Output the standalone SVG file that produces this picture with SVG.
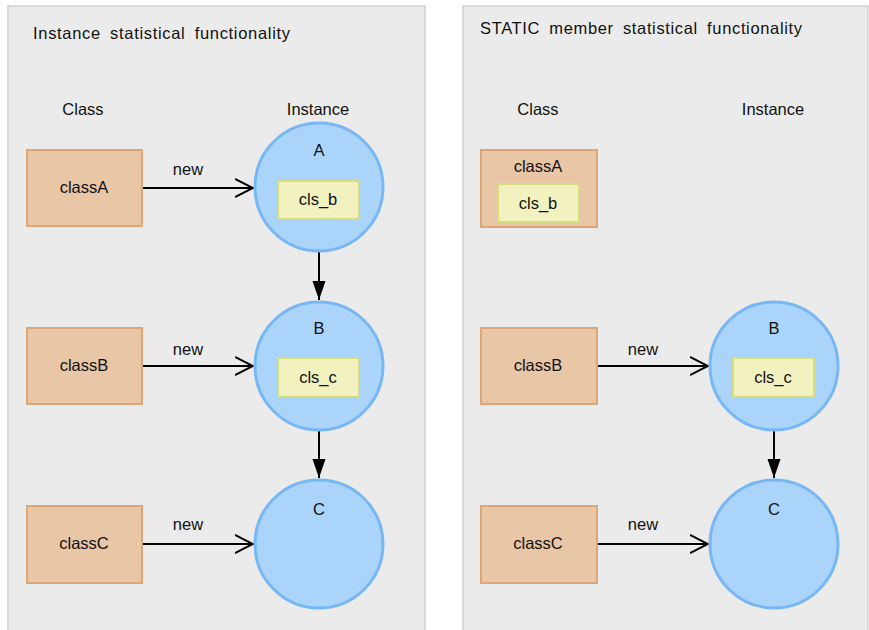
<svg xmlns="http://www.w3.org/2000/svg" width="869" height="630" viewBox="0 0 869 630">
<defs>
<style>
text{font-family:"Liberation Sans","DejaVu Sans",sans-serif;font-size:16.5px;fill:#111}
.panel{fill:#ebebeb;stroke:#d2d2d2;stroke-width:1.5}
.cls{fill:#e8c6a6;stroke:#dca676;stroke-width:2}
.inst{fill:#abd4fb;stroke:#78b7f5;stroke-width:3}
.mem{fill:#f2f2c0;stroke:#d8dc80;stroke-width:2}
.c{text-anchor:middle}
.line{stroke:#000;stroke-width:2;fill:none}
</style>
<marker id="openArrow" markerWidth="20" markerHeight="20" viewBox="0 0 20 20" refX="18" refY="10" markerUnits="userSpaceOnUse" orient="auto">
<path d="M0,1 L18,10 L0,19" fill="none" stroke="#000" stroke-width="2"/>
</marker>
<marker id="fillArrow" markerWidth="14" markerHeight="20" viewBox="0 0 14 20" refX="7" refY="19" markerUnits="userSpaceOnUse" orient="0">
<path d="M0.5,0 L13.5,0 L7,19 Z" fill="#000"/>
</marker>
</defs>
<rect class="panel" x="8" y="6" width="417" height="640"/>
<rect class="panel" x="463" y="6" width="405" height="640"/>
<text x="33" y="39" textLength="257" lengthAdjust="spacing" word-spacing="4">Instance statistical functionality</text>
<text x="480" y="34" textLength="322" lengthAdjust="spacing" word-spacing="4">STATIC member statistical functionality</text>
<text class="c" x="83" y="115">Class</text>
<text class="c" x="318" y="115">Instance</text>
<text class="c" x="538" y="115">Class</text>
<text class="c" x="773" y="115">Instance</text>
<g id="connectors">
<line class="line" x1="142" y1="188" x2="253" y2="188" marker-end="url(#openArrow)"/>
<line class="line" x1="142" y1="366" x2="253" y2="366" marker-end="url(#openArrow)"/>
<line class="line" x1="142" y1="544" x2="253" y2="544" marker-end="url(#openArrow)"/>
<line class="line" x1="319" y1="219" x2="319" y2="300" marker-end="url(#fillArrow)"/>
<line class="line" x1="319" y1="397" x2="319" y2="478" marker-end="url(#fillArrow)"/>
<line class="line" x1="597" y1="366" x2="708" y2="366" marker-end="url(#openArrow)"/>
<line class="line" x1="597" y1="544" x2="708" y2="544" marker-end="url(#openArrow)"/>
<line class="line" x1="774" y1="397" x2="774" y2="478" marker-end="url(#fillArrow)"/>
<text class="c" x="188" y="175">new</text>
<text class="c" x="188" y="355">new</text>
<text class="c" x="188" y="530">new</text>
<text class="c" x="643" y="355">new</text>
<text class="c" x="643" y="530">new</text>
</g>
<g id="L-classA"><rect class="cls" x="27" y="150" width="115" height="76"/><text class="c" x="84" y="193">classA</text></g>
<g id="L-classB"><rect class="cls" x="27" y="328" width="115" height="76"/><text class="c" x="84" y="371">classB</text></g>
<g id="L-classC"><rect class="cls" x="27" y="506" width="115" height="77"/><text class="c" x="84" y="549">classC</text></g>
<g id="L-A"><circle class="inst" cx="319" cy="187" r="64"/><text class="c" x="319" y="156">A</text>
<rect class="mem" x="278" y="181" width="81" height="38"/><text class="c" x="318" y="205">cls_b</text></g>
<g id="L-B"><circle class="inst" cx="319" cy="366" r="64"/><text class="c" x="319" y="334">B</text>
<rect class="mem" x="278" y="358" width="81" height="39"/><text class="c" x="318" y="383">cls_c</text></g>
<g id="L-C"><circle class="inst" cx="319" cy="544" r="64"/><text class="c" x="319" y="515">C</text></g>
<g id="R-classA"><rect class="cls" x="481" y="150" width="116" height="77"/><text class="c" x="538" y="172">classA</text>
<rect class="mem" x="498" y="184" width="81" height="38"/><text class="c" x="538" y="209">cls_b</text></g>
<g id="R-classB"><rect class="cls" x="481" y="328" width="116" height="76"/><text class="c" x="538" y="371">classB</text></g>
<g id="R-classC"><rect class="cls" x="481" y="506" width="116" height="77"/><text class="c" x="538" y="549">classC</text></g>
<g id="R-B"><circle class="inst" cx="774" cy="366" r="64"/><text class="c" x="774" y="334">B</text>
<rect class="mem" x="733" y="358" width="81" height="39"/><text class="c" x="773" y="383">cls_c</text></g>
<g id="R-C"><circle class="inst" cx="774" cy="544" r="64"/><text class="c" x="774" y="515">C</text></g>
</svg>
